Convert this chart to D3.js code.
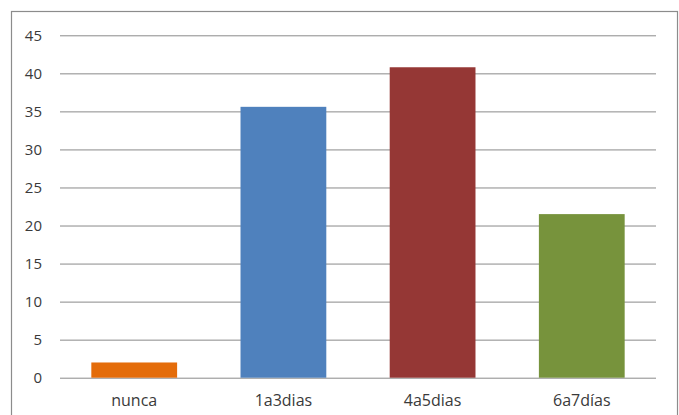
<!DOCTYPE html>
<html>
<head>
<meta charset="utf-8">
<script src="https://cdn.jsdelivr.net/npm/d3@7/dist/d3.min.js"></script>
<style>
  html, body { margin: 0; padding: 0; background: #fff; }
  svg { display: block; }
  text { font-family: "Open Sans", "Liberation Sans", sans-serif; fill: #3a3a3a; }
</style>
</head>
<body>
<svg id="chart" width="679" height="415"></svg>
<script>
// Days per week category and share values
const categories = ["nunca", "1a3dias", "4a5dias", "6a7días"];
const values = [2, 35.6, 40.8, 21.5];
const barColors = ["#E46C0A", "#4F81BD", "#953735", "#77933C"];
const yTicks = [0, 5, 10, 15, 20, 25, 30, 35, 40, 45];

const svg = d3.select("#chart");
const plot = { left: 60, right: 656, top: 35.3, bottom: 377.7 };

// Chart frame
svg.append("rect")
  .attr("x", 11.5).attr("y", 11.5)
  .attr("width", 666).attr("height", 420)
  .attr("fill", "#fff")
  .attr("stroke", "#8c8c8c").attr("stroke-width", 1.2);

const x = d3.scaleBand()
  .domain(categories)
  .range([plot.left, plot.right])
  .paddingInner(0.425)
  .paddingOuter(0.21);

const y = d3.scaleLinear()
  .domain([0, 45])
  .range([plot.bottom, plot.top]);

// Horizontal gridlines and y labels
const yAxis = d3.axisLeft(y)
  .tickValues(yTicks)
  .tickSize(-(plot.right - plot.left))
  .tickPadding(18);

const gy = svg.append("g")
  .attr("transform", `translate(${plot.left},0)`)
  .call(yAxis);
gy.select(".domain").remove();
gy.selectAll(".tick line")
  .attr("stroke", "#8a8a8a").attr("stroke-width", 1);
gy.selectAll(".tick text")
  .attr("font-size", 15)
  .attr("fill", "#3a3a3a")
  .style("font-family", "'Open Sans', 'Liberation Sans', sans-serif");

// Bars
svg.append("g").selectAll("rect")
  .data(values)
  .join("rect")
  .attr("x", (d, i) => x(categories[i]))
  .attr("y", d => y(d))
  .attr("width", x.bandwidth())
  .attr("height", d => y(0) - y(d))
  .attr("fill", (d, i) => barColors[i]);

// Category labels
const xAxis = d3.axisBottom(x).tickSize(0).tickPadding(17);
const gx = svg.append("g")
  .attr("transform", `translate(0,${plot.bottom})`)
  .call(xAxis);
gx.select(".domain").remove();
gx.selectAll(".tick text")
  .attr("font-size", 16)
  .attr("fill", "#3a3a3a")
  .style("font-family", "'Open Sans', 'Liberation Sans', sans-serif");
</script>
</body>
</html>
